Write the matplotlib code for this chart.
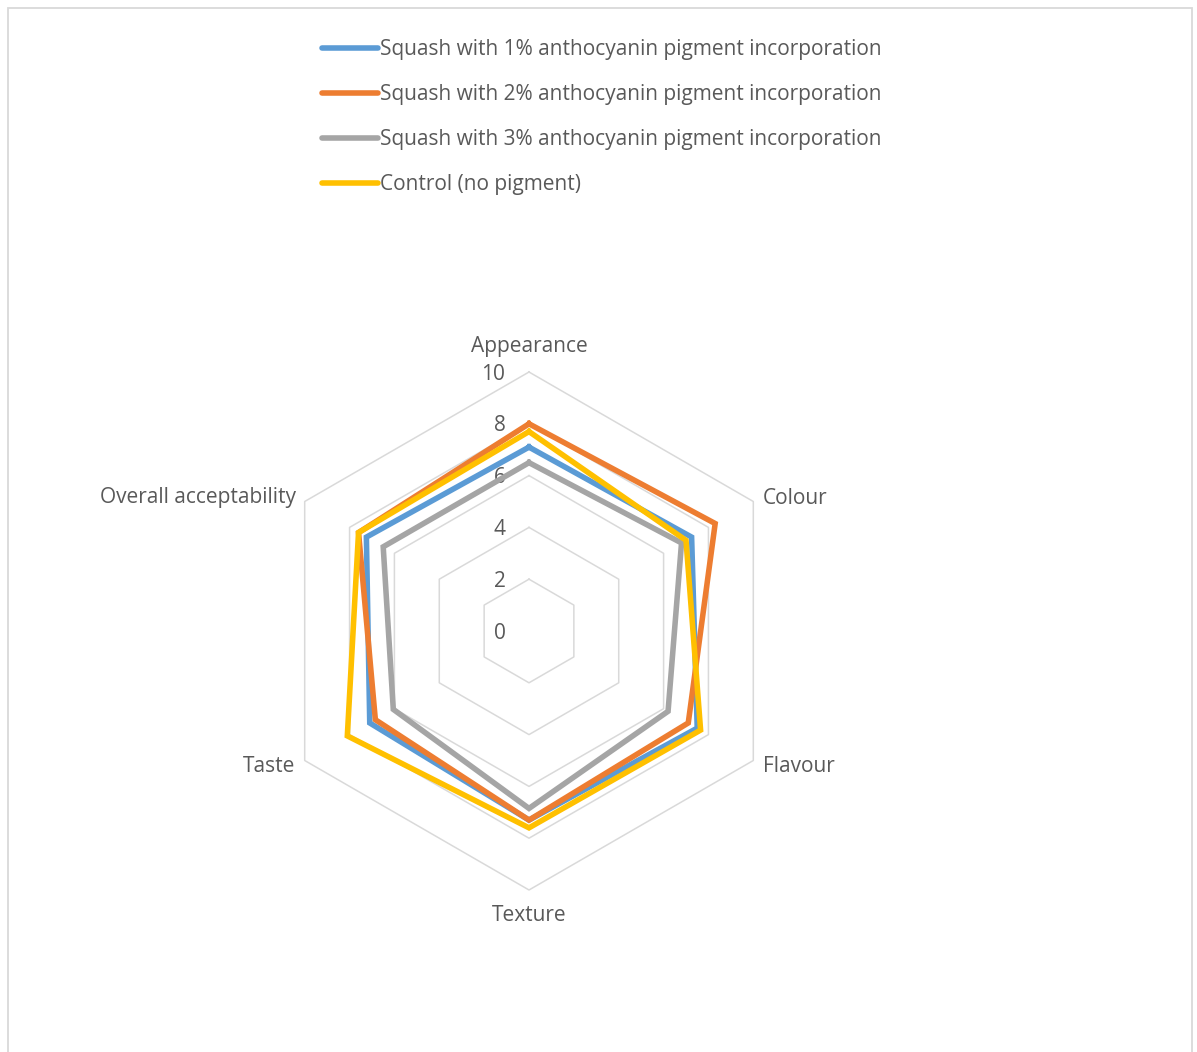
"""Radar chart of sensory scores for squash with anthocyanin pigment."""
import numpy as np
import matplotlib
matplotlib.use("Agg")
import matplotlib.pyplot as plt
from matplotlib.lines import Line2D

plt.rcParams["font.family"] = ["Open Sans", "DejaVu Sans"]

attributes = ["Appearance", "Colour", "Flavour", "Texture", "Taste",
              "Overall acceptability"]
series_names = [
    "Squash with 1% anthocyanin pigment incorporation",
    "Squash with 2% anthocyanin pigment incorporation",
    "Squash with 3% anthocyanin pigment incorporation",
    "Control (no pigment)",
]
pigment_1 = [7.1, 7.25, 7.5, 7.3, 7.1, 7.25]
pigment_2 = [8.0, 8.3, 7.1, 7.3, 6.85, 7.6]
pigment_3 = [6.5, 6.8, 6.2, 6.85, 6.05, 6.5]
control = [7.7, 7.0, 7.65, 7.6, 8.1, 7.6]
rings = [2, 4, 6, 8, 10]

COLORS = ["#5B9BD5", "#ED7D31", "#A5A5A5", "#FFC000"]
GRID = "#D9D9D9"
TEXT = "#595959"
FS = 15

W, H = 1197, 1052
PX = 25.9          # pixels per score unit
CX, CY = 529, 631  # centre of the radar in pixels (from top-left)

fig = plt.figure(figsize=(W / 100, H / 100), dpi=100)
ax = fig.add_axes([0, 0, 1, 1])
ax.set_xlim(-CX / PX, (W - CX) / PX)
ax.set_ylim(-(H - CY) / PX, CY / PX)
ax.axis("off")

# spokes start at the top and run clockwise
theta = np.pi / 2 - np.arange(len(attributes)) * 2 * np.pi / len(attributes)


def outline(values):
    v = np.asarray(values, dtype=float)
    x = v * np.cos(theta)
    y = v * np.sin(theta)
    return np.append(x, x[0]), np.append(y, y[0])


for r in rings:
    x, y = outline([r] * len(attributes))
    ax.plot(x, y, color=GRID, lw=1.1, zorder=1)
for r in [0] + rings:
    ax.annotate(str(r), (0, r), textcoords="offset points", xytext=(-17, -1.5),
                ha="right", va="center", color=TEXT, fontsize=FS)

for name, vals, c in zip(series_names, [pigment_1, pigment_2, pigment_3, control],
                         COLORS):
    x, y = outline(vals)
    ax.plot(x, y, color=c, lw=4.0, solid_joinstyle="miter", label=name, zorder=3)

# category labels placed just outside the outer ring
label_pos = [((0, 18.5), "center"), ((6.5, 2.5), "left"), ((7, -4), "left"),
             ((0, -18.5), "center"), ((-6.5, -4), "right"), ((-6.5, 3), "right")]
for i, (lab, (off, ha)) in enumerate(zip(attributes, label_pos)):
    ax.annotate(lab, (10 * np.cos(theta[i]), 10 * np.sin(theta[i])),
                textcoords="offset points", xytext=off, ha=ha, va="center",
                color=TEXT, fontsize=FS)

handles = [Line2D([], [], color=c, lw=4.0, solid_capstyle="round") for c in COLORS]
leg = ax.legend(handles, series_names, loc="upper left",
                bbox_to_anchor=(322 / W, 1 - 39 / H), bbox_transform=fig.transFigure,
                frameon=False, fontsize=FS, handlelength=2.69, handletextpad=0.1,
                labelspacing=1.15, borderpad=0, borderaxespad=0)
for t in leg.get_texts():
    t.set_color(TEXT)

# chart area border (runs off the bottom edge)
fig.add_artist(plt.Rectangle((7.5 / W, -0.05), (1191.5 - 7.5) / W, 1.05 - 8.5 / H,
                             transform=fig.transFigure, fill=False,
                             edgecolor=GRID, lw=1.3))

fig.savefig("out.png", dpi=100, facecolor="white")
